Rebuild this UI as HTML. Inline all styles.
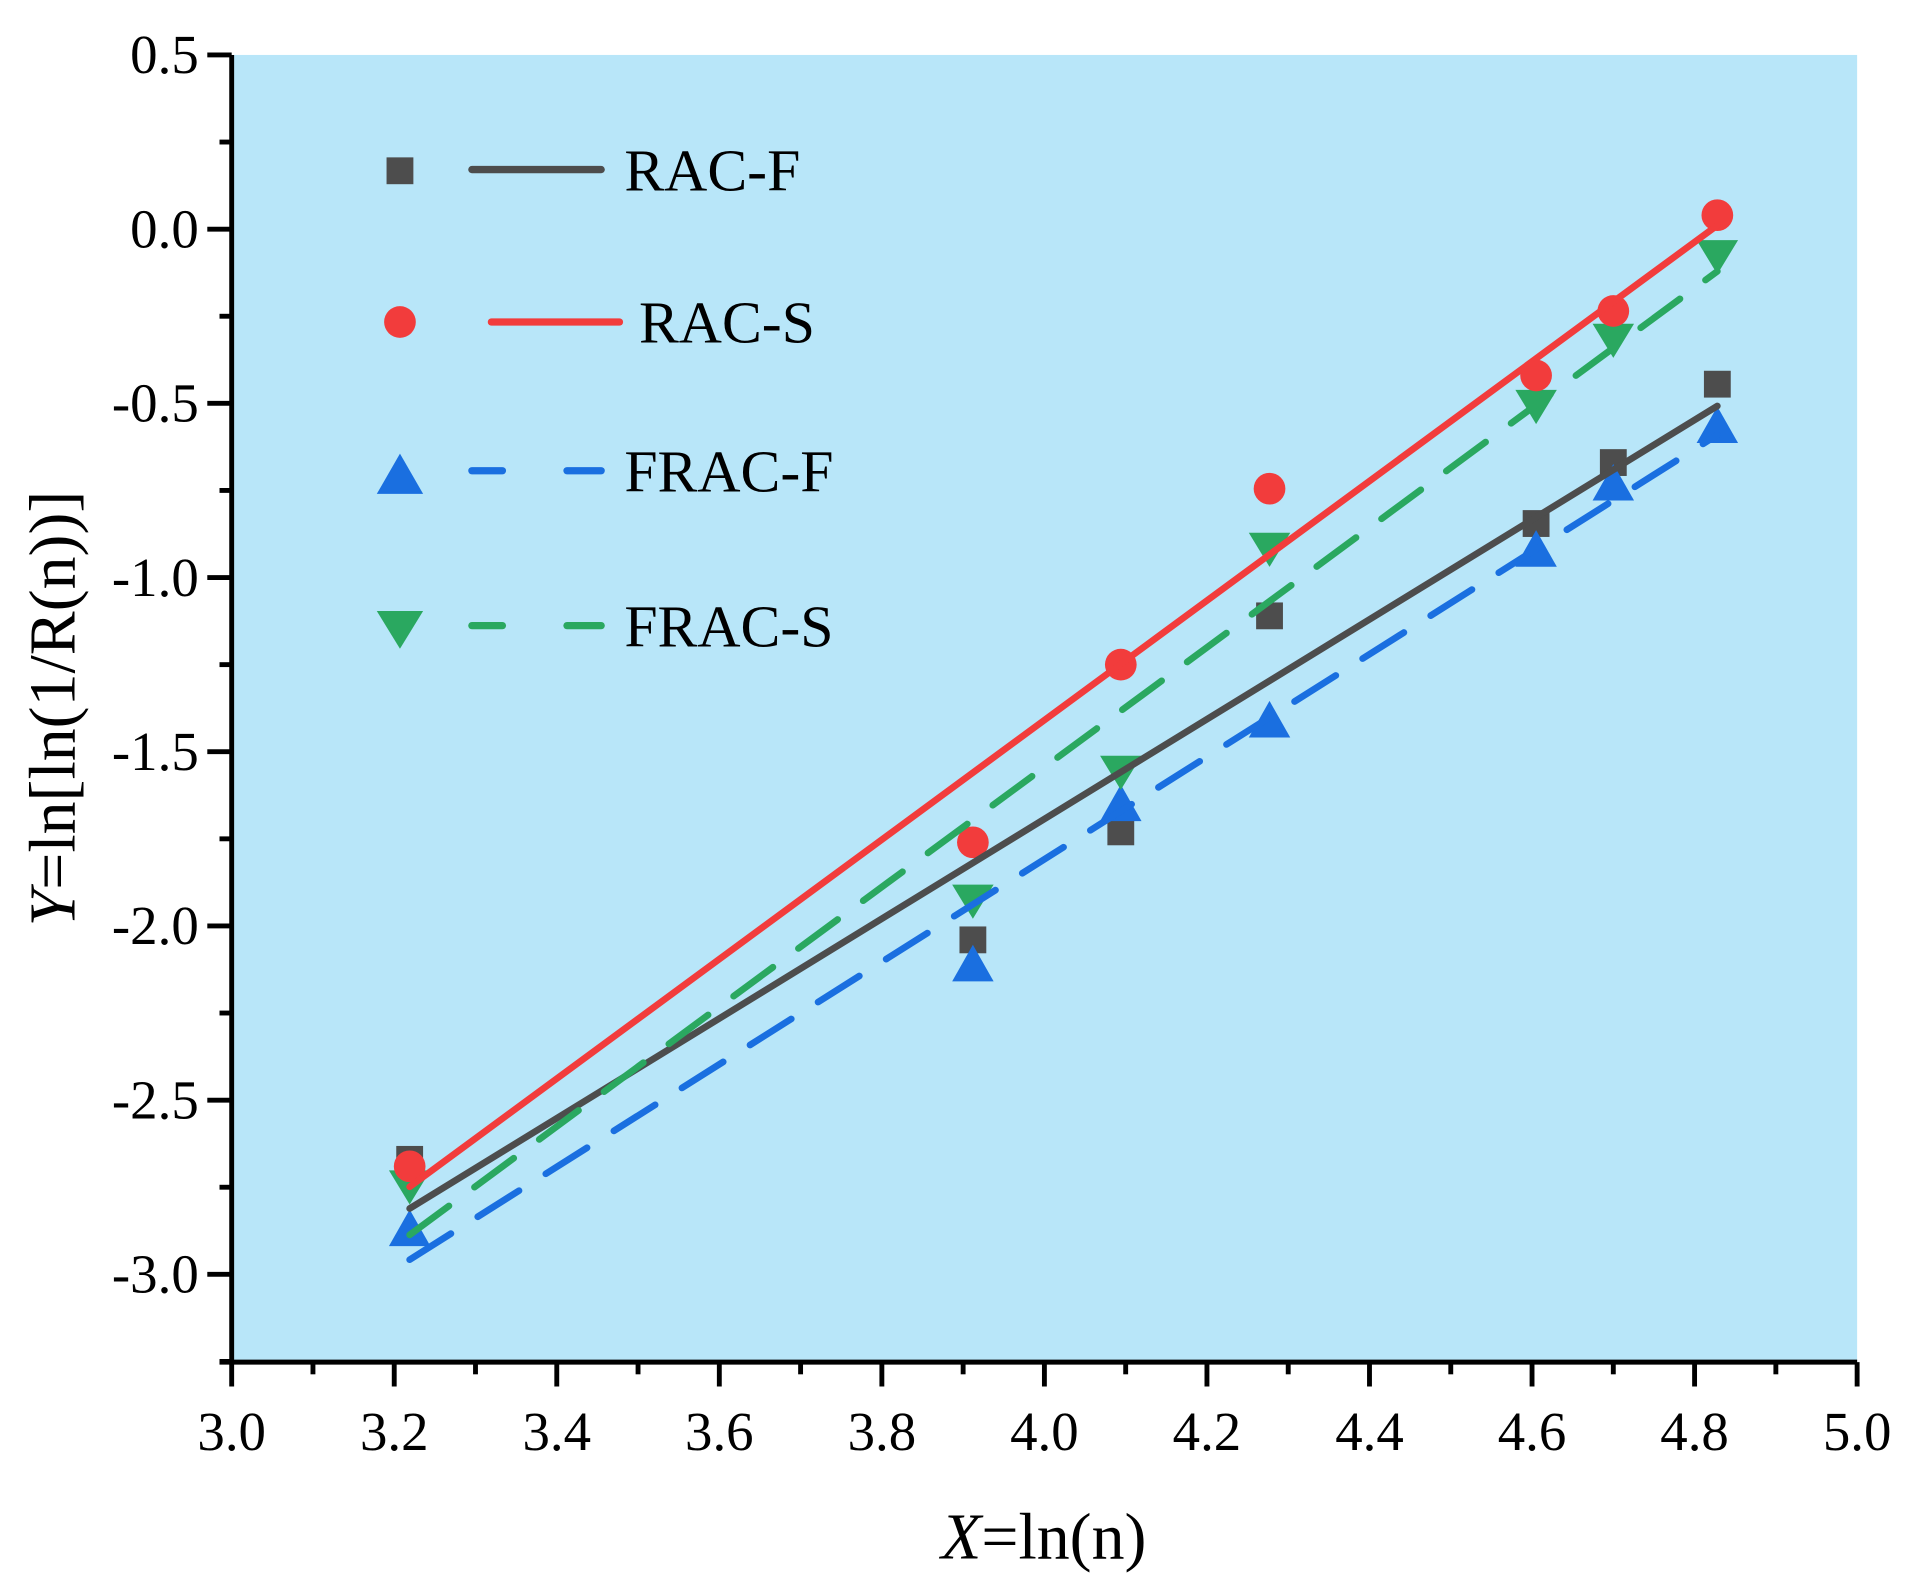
<!DOCTYPE html>
<html><head><meta charset="utf-8"><style>
html,body{margin:0;padding:0;background:#fff;}
svg{display:block;font-family:"Liberation Serif",serif;}
</style></head><body>
<svg id="chart" width="1912" height="1589" viewBox="0 0 1568 1303" xmlns="http://www.w3.org/2000/svg">
<rect x="190" y="45" width="1333" height="1072" fill="#b8e6f9"/>
<g id="marks"></g>
<g id="axes"></g>
<g>
 <g>
  <rect x="317" y="129" width="22" height="22" fill="#4d4d4d"/>
  <line x1="387" y1="139" x2="493" y2="139" stroke="#4d4d4d" stroke-width="6" stroke-linecap="round"/>
  <text x="512" y="156" font-size="49">RAC-F</text>
 </g>
 <g>
  <circle cx="328" cy="264" r="13" fill="#f23c3c"/>
  <line x1="403" y1="264" x2="508" y2="264" stroke="#f23c3c" stroke-width="6" stroke-linecap="round"/>
  <text x="524" y="281" font-size="49">RAC-S</text>
 </g>
 <g>
  <polygon points="328,372 347,405 309,405" fill="#1a6fe0"/>
  <line x1="387" y1="386" x2="412" y2="386" stroke="#1a6fe0" stroke-width="6" stroke-linecap="round"/>
  <line x1="465" y1="386" x2="493" y2="386" stroke="#1a6fe0" stroke-width="6" stroke-linecap="round"/>
  <text x="512" y="403" font-size="49">FRAC-F</text>
 </g>
 <g>
  <polygon points="309,501 347,501 328,532" fill="#2aa860"/>
  <line x1="387" y1="513" x2="412" y2="513" stroke="#2aa860" stroke-width="6" stroke-linecap="round"/>
  <line x1="465" y1="513" x2="493" y2="513" stroke="#2aa860" stroke-width="6" stroke-linecap="round"/>
  <text x="512" y="530" font-size="49">FRAC-S</text>
 </g>
</g>
<text x="856" y="1278" font-size="54" text-anchor="middle"><tspan font-style="italic">X</tspan>=ln(n)</text>
<text transform="translate(61,581) rotate(-90)" font-size="54" text-anchor="middle"><tspan font-style="italic">Y</tspan>=ln[ln(1/R(n))]</text>
</svg>
<script>
const xValues = [3.219, 3.912, 4.094, 4.277, 4.605, 4.700, 4.828];
const racF = [-2.67, -2.04, -1.73, -1.11, -0.845, -0.67, -0.445];
const racS = [-2.69, -1.76, -1.25, -0.745, -0.42, -0.235, 0.04];
const fracF = [-2.87, -2.11, -1.65, -1.41, -0.92, -0.73, -0.565];
const fracS = [-2.74, -1.92, -1.55, -0.91, -0.50, -0.31, -0.07];
const xTicks = [3.0, 3.2, 3.4, 3.6, 3.8, 4.0, 4.2, 4.4, 4.6, 4.8, 5.0];
const xTickLabels = ["3.0","3.2","3.4","3.6","3.8","4.0","4.2","4.4","4.6","4.8","5.0"];
const yTicks = [0.5, 0.0, -0.5, -1.0, -1.5, -2.0, -2.5, -3.0];
const yTickLabels = ["0.5","0.0","-0.5","-1.0","-1.5","-2.0","-2.5","-3.0"];

const NS = "http://www.w3.org/2000/svg";
const X0 = 190, X1 = 1523, YT = 45, YB = 1117;
function sx(v){ return X0 + (v - 3.0) / 2.0 * (X1 - X0); }
function sy(v){ return 45 + (0.5 - v) / 3.5 * 1000; }
function mk(tag, attrs, parent){ const e = document.createElementNS(NS, tag); for (const k in attrs) e.setAttribute(k, attrs[k]); parent.appendChild(e); return e; }

const marks = document.getElementById('marks');
const axes = document.getElementById('axes');

function fit(xs, ys){
  const n = xs.length; let mx=0,my=0; for(let i=0;i<n;i++){mx+=xs[i];my+=ys[i];} mx/=n; my/=n;
  let sxy=0,sxx=0; for(let i=0;i<n;i++){sxy+=(xs[i]-mx)*(ys[i]-my); sxx+=(xs[i]-mx)**2;}
  const b = sxy/sxx; return [b, my - b*mx];
}
const series = [
  {name:'rac-f', data:racF, color:'#4d4d4d', dash:null, shape:'square'},
  {name:'frac-f', data:fracF, color:'#1a6fe0', dash:'40 26', shape:'up'},
  {name:'frac-s', data:fracS, color:'#2aa860', dash:'40 26', shape:'down'},
  {name:'rac-s', data:racS, color:'#f23c3c', dash:null, shape:'circle'}
];
series.forEach(s => {
  s.data.forEach((v,i) => {
    const cx = sx(xValues[i]), cy = sy(v);
    let el;
    if (s.shape==='square') el = mk('rect',{x:cx-11,y:cy-11,width:22,height:22,fill:s.color},marks);
    else if (s.shape==='circle') el = mk('circle',{cx:cx,cy:cy,r:13,fill:s.color},marks);
    else if (s.shape==='up') el = mk('polygon',{points:`${cx},${cy-16} ${cx+17},${cy+14} ${cx-17},${cy+14}`,fill:s.color},marks);
    else el = mk('polygon',{points:`${cx-17},${cy-11} ${cx+17},${cy-11} ${cx},${cy+17}`,fill:s.color},marks);
    
    
  });
});
series.forEach(s => {
  const [b,a] = fit(xValues, s.data);
  const xa = xValues[0], xb = xValues[xValues.length-1];
  const attrs = {x1:sx(xa),y1:sy(a+b*xa),x2:sx(xb),y2:sy(a+b*xb),stroke:s.color,'stroke-width':5.5,'stroke-linecap':'round'};
  if (s.dash) attrs['stroke-dasharray'] = s.dash;
  const l = mk('line', attrs, marks);
  
  
});

const la = mk('line',{x1:X0,y1:YT,x2:X0,y2:YB+2,stroke:'#000','stroke-width':4},axes);


const ba = mk('line',{x1:X0-10,y1:YB,x2:X1,y2:YB,stroke:'#000','stroke-width':4},axes);


xTicks.forEach((v,i) => {
  const x = sx(v);
  mk('line',{x1:x,y1:YB,x2:x,y2:YB+20,stroke:'#000','stroke-width':4},axes);
  if (i < xTicks.length-1) mk('line',{x1:sx(v+0.1),y1:YB,x2:sx(v+0.1),y2:YB+10,stroke:'#000','stroke-width':4},axes);
  const t = mk('text',{x:x,y:1189,'font-size':45,'text-anchor':'middle'},axes);
  t.textContent = xTickLabels[i];
  
  
});
yTicks.forEach((v,i) => {
  const y = sy(v);
  mk('line',{x1:X0-20,y1:y,x2:X0,y2:y,stroke:'#000','stroke-width':4},axes);
  const t = mk('text',{x:X0-27,y:y+15,'font-size':45,'text-anchor':'end'},axes);
  t.textContent = yTickLabels[i];
  
  
});
for (let v = 0.25; v >= -3.25; v -= 0.5) {
  const y = sy(v);
  mk('line',{x1:X0-10,y1:y,x2:X0,y2:y,stroke:'#000','stroke-width':4},axes);
}
</script>
</body></html>
